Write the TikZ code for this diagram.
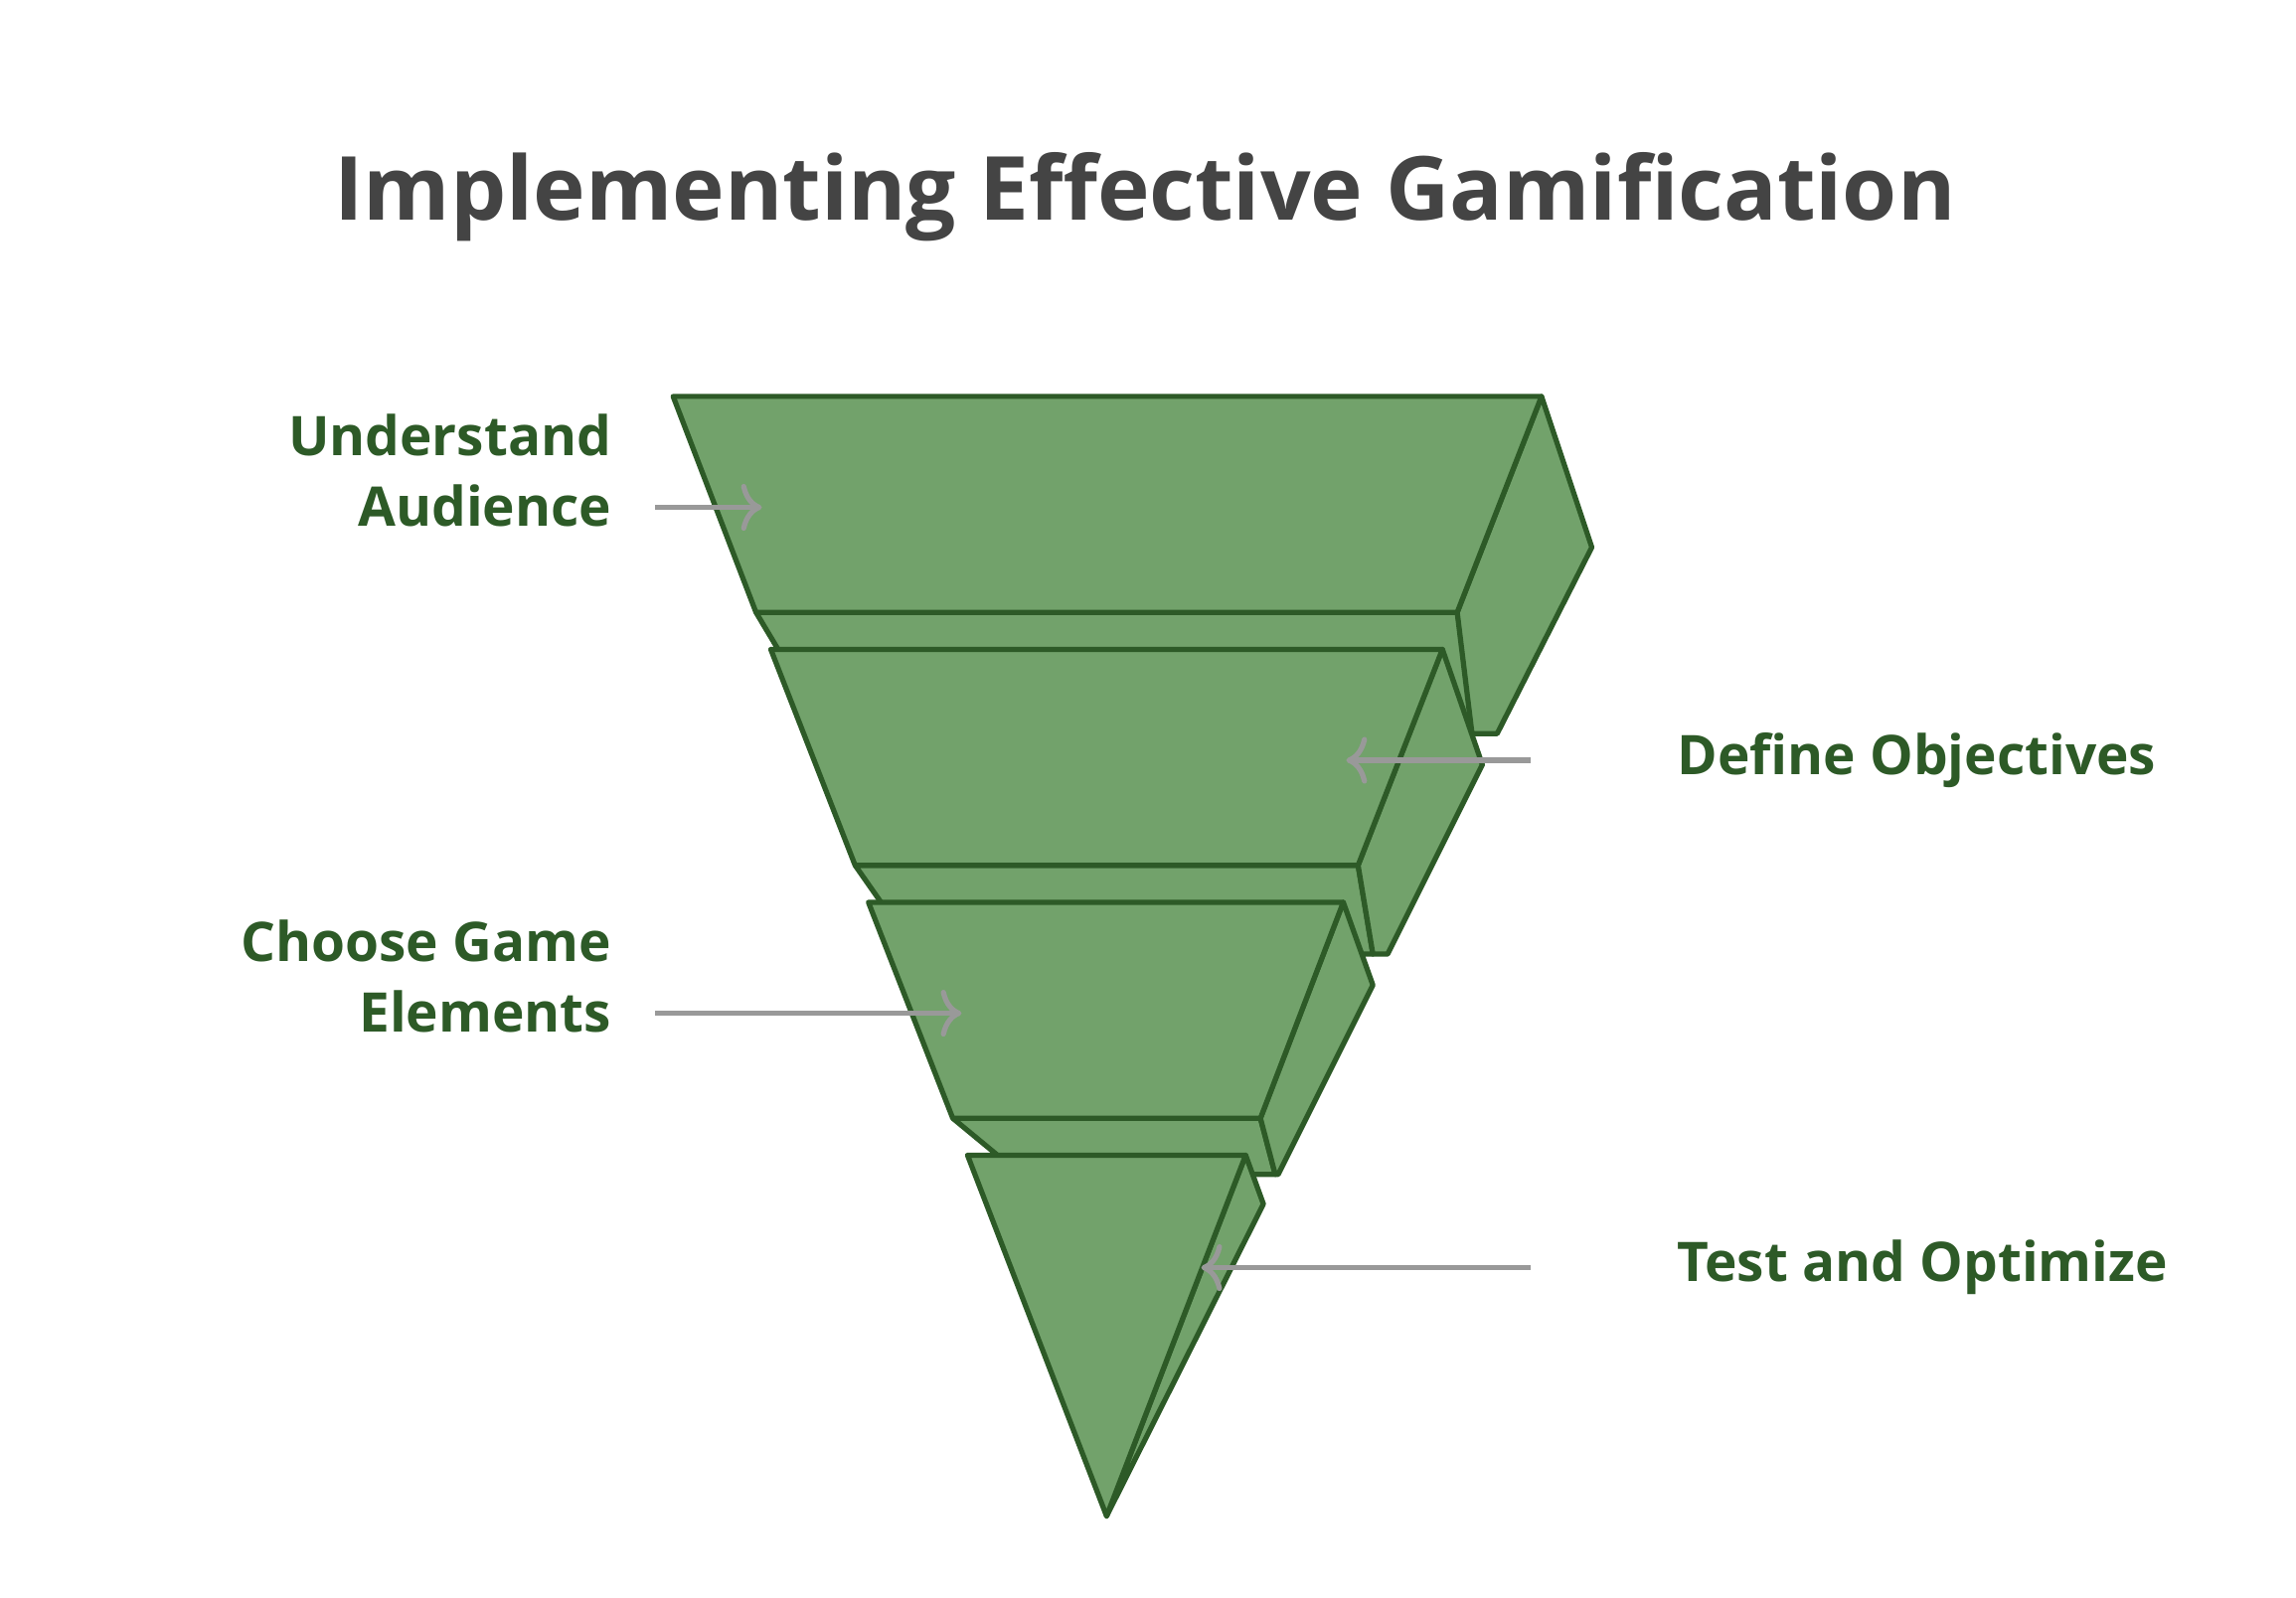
\documentclass[tikz,border=0pt]{standalone}
\usepackage{fontspec}
\setmainfont{Open Sans}
\usetikzlibrary{arrows.meta}
\definecolor{layerfill}{HTML}{72A26B}
\definecolor{layerline}{HTML}{2D5A27}
\definecolor{titlegray}{HTML}{444444}
\definecolor{arrowgray}{HTML}{999999}
\tikzset{%
  layer/.style = {fill=layerfill, draw=layerline, line width=1pt, line join=round},%
  pointer/.style = {draw=arrowgray, line width=1pt, -{To[length=4pt,width=9pt]}},%
  steplabel/.style = {font=\bfseries\fontsize{10.5}{13.5}\selectfont, text=layerline, inner sep=0pt}%
}
\begin{document}
\begin{tikzpicture}[x=0.01cm,y=-0.01cm]
  \useasboundingbox (0,0) rectangle (1552,1080);
  \node[font=\bfseries\fontsize{17}{20}\selectfont, text=titlegray] (title) at (774,133) {Implementing Effective Gamification};
  % layer 1
  \draw[layer] (511,414) -- (985,414) -- (1000,496) -- (560,496) -- cycle;
  \draw[layer] (1042,268) -- (1076,370) -- (1012,496) -- (995,496) -- (985,414) -- cycle;
  \draw[layer] (455,268) -- (1042,268) -- (985,414) -- (511,414) -- cycle;
  % layer 2
  \draw[layer] (578,585) -- (918,585) -- (928,645) -- (620,645) -- cycle;
  \draw[layer] (975,439) -- (1002,517) -- (938,645) -- (928,645) -- (918,585) -- cycle;
  \draw[layer] (521,439) -- (975,439) -- (918,585) -- (578,585) -- cycle;
  % layer 3
  \draw[layer] (644,756) -- (852,756) -- (862,794) -- (690,794) -- cycle;
  \draw[layer] (908,610) -- (928,666) -- (864,794) -- (862,794) -- (852,756) -- cycle;
  \draw[layer] (587,610) -- (908,610) -- (852,756) -- (644,756) -- cycle;
  % layer 4
  \draw[layer] (842,781) -- (854,814) -- (748,1025) -- cycle;
  \draw[layer] (654,781) -- (842,781) -- (748,1025) -- cycle;
  % labels and pointers
  \node[steplabel, anchor=east, align=right] (audience) at (414,318) {Understand\\Audience};
  \node[steplabel, anchor=west] (objectives) at (1133,514) {Define Objectives};
  \node[steplabel, anchor=east, align=right] (elements) at (414,660) {Choose Game\\Elements};
  \node[steplabel, anchor=west] (optimize) at (1133,857) {Test and Optimize};
  \coordinate (p1) at (515,343);
  \coordinate (p2) at (910,514);
  \coordinate (p3) at (650,685);
  \coordinate (p4) at (812,857);
  \draw[pointer] (443,343) -- (p1);
  \draw[pointer] ([xshift=-28]objectives.west) -- (p2);
  \draw[pointer] (443,685) -- (p3);
  \draw[pointer] ([xshift=-28]optimize.west) -- (p4);
\end{tikzpicture}
\end{document}
